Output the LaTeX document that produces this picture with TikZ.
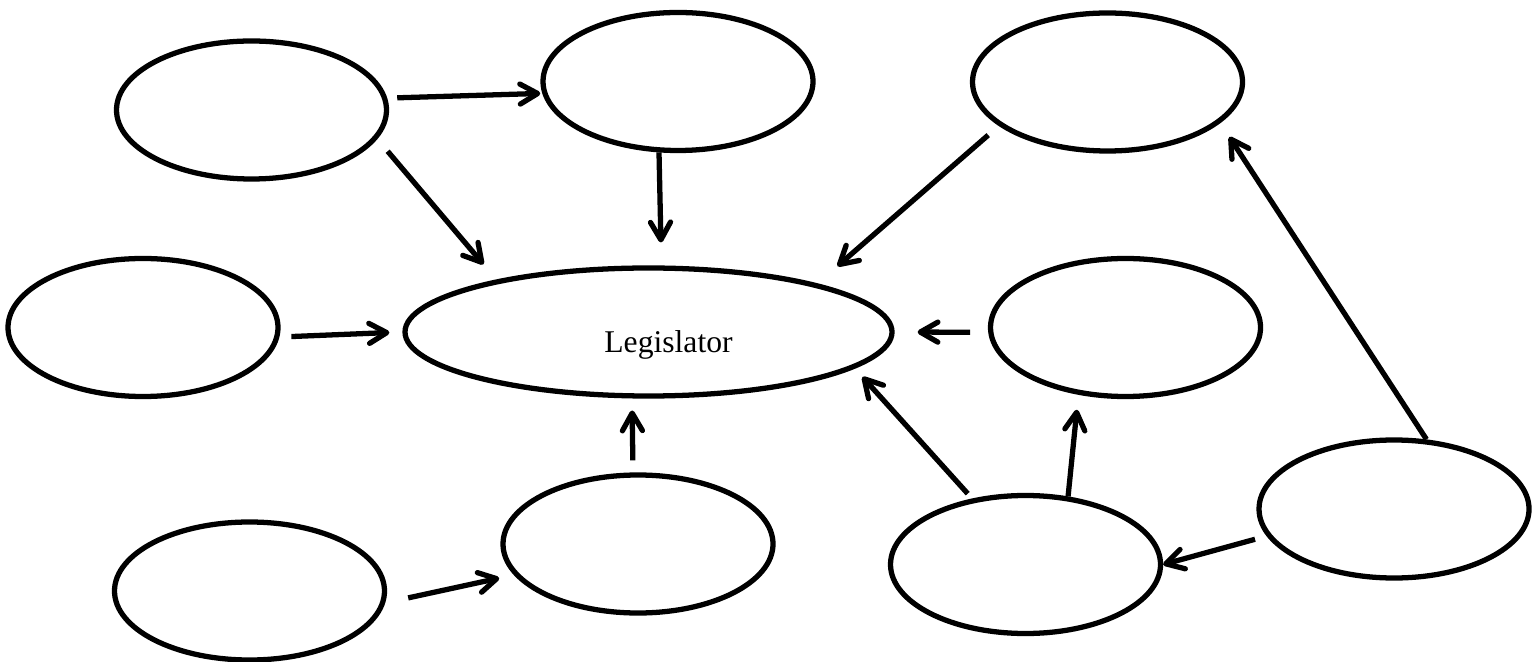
\documentclass[tikz,border=0pt]{standalone}
\usepackage{fontspec}
\setmainfont{Liberation Serif}
\usetikzlibrary{shapes.geometric}
\usetikzlibrary{arrows.meta}
\tikzset{
	bubblestyle/.style={ellipse, draw=black, line width=1.5pt, inner sep=0pt,
		minimum width=2.7cm, minimum height=1.38cm},
	legstyle/.style={bubblestyle, minimum width=4.87cm, minimum height=1.28cm,
		font=\fontsize{9}{11}\selectfont, text height=4.1mm, text depth=0pt},
	linkstyle/.style={line width=1.5pt, -{Straight Barb[length=5pt,width=5.7pt,round]}}
}

\begin{document}
\begin{tikzpicture}
	\useasboundingbox (0,0) rectangle (15.34,-6.62);
	\node[bubblestyle] (tl) at (2.515,-1.10) {};
	\node[bubblestyle] (tm) at (6.78,-0.815) {};
	\node[bubblestyle] (tr) at (11.075,-0.82) {};
	\node[bubblestyle] (ml) at (1.43,-3.275) {};
	\node[legstyle] (leg) at (6.485,-3.32) {\hspace*{4mm}Legislator};
	\node[bubblestyle] (mr) at (11.255,-3.275) {};
	\node[bubblestyle] (bl) at (2.495,-5.91) {};
	\node[bubblestyle] (bm) at (6.38,-5.44) {};
	\node[bubblestyle] (br) at (10.255,-5.645) {};
	\node[bubblestyle] (fr) at (13.94,-5.09) {};
	\draw[linkstyle, shorten <=1mm, shorten >=0.2mm] (tl.5.6) -- (tm.185.8);
	\draw[linkstyle, shorten <=1.6mm, shorten >=2mm] (tl.-13.1) -- (leg.161.8);
	\draw[linkstyle, shorten >=2.3mm] (tm.255.2) -- (leg.79.8);
	\draw[linkstyle, shorten <=1.4mm, shorten >=2.65mm] (tr.202.9) -- (leg.16.8);
	\draw[linkstyle, shorten <=1.2mm, shorten >=1.3mm] (ml.-4.7) -- (leg.180.35);
	\draw[linkstyle, shorten <=1.8mm, shorten >=2.3mm] (mr.182.8) -- (leg.-0.7);
	\draw[linkstyle, shorten <=1.2mm, shorten >=1.2mm] (bm.94.1) -- (leg.256.4);
	\draw[linkstyle, shorten <=0.65mm, shorten >=1.15mm] (br.129.7) -- (leg.-10.9);
	\draw[linkstyle, shorten >=1.5mm] (br.58.2) -- (mr.235.8);
	\draw[linkstyle, shorten >=1.65mm] (fr.65.3) -- (tr.-20.6);
	\draw[linkstyle, shorten <=1.2mm] (fr.192.9) -- (br.0);
	\draw[linkstyle, shorten <=2.35mm, shorten >=1.5mm] (bl.-5) -- (bm.194.3);
\end{tikzpicture}
\end{document}
